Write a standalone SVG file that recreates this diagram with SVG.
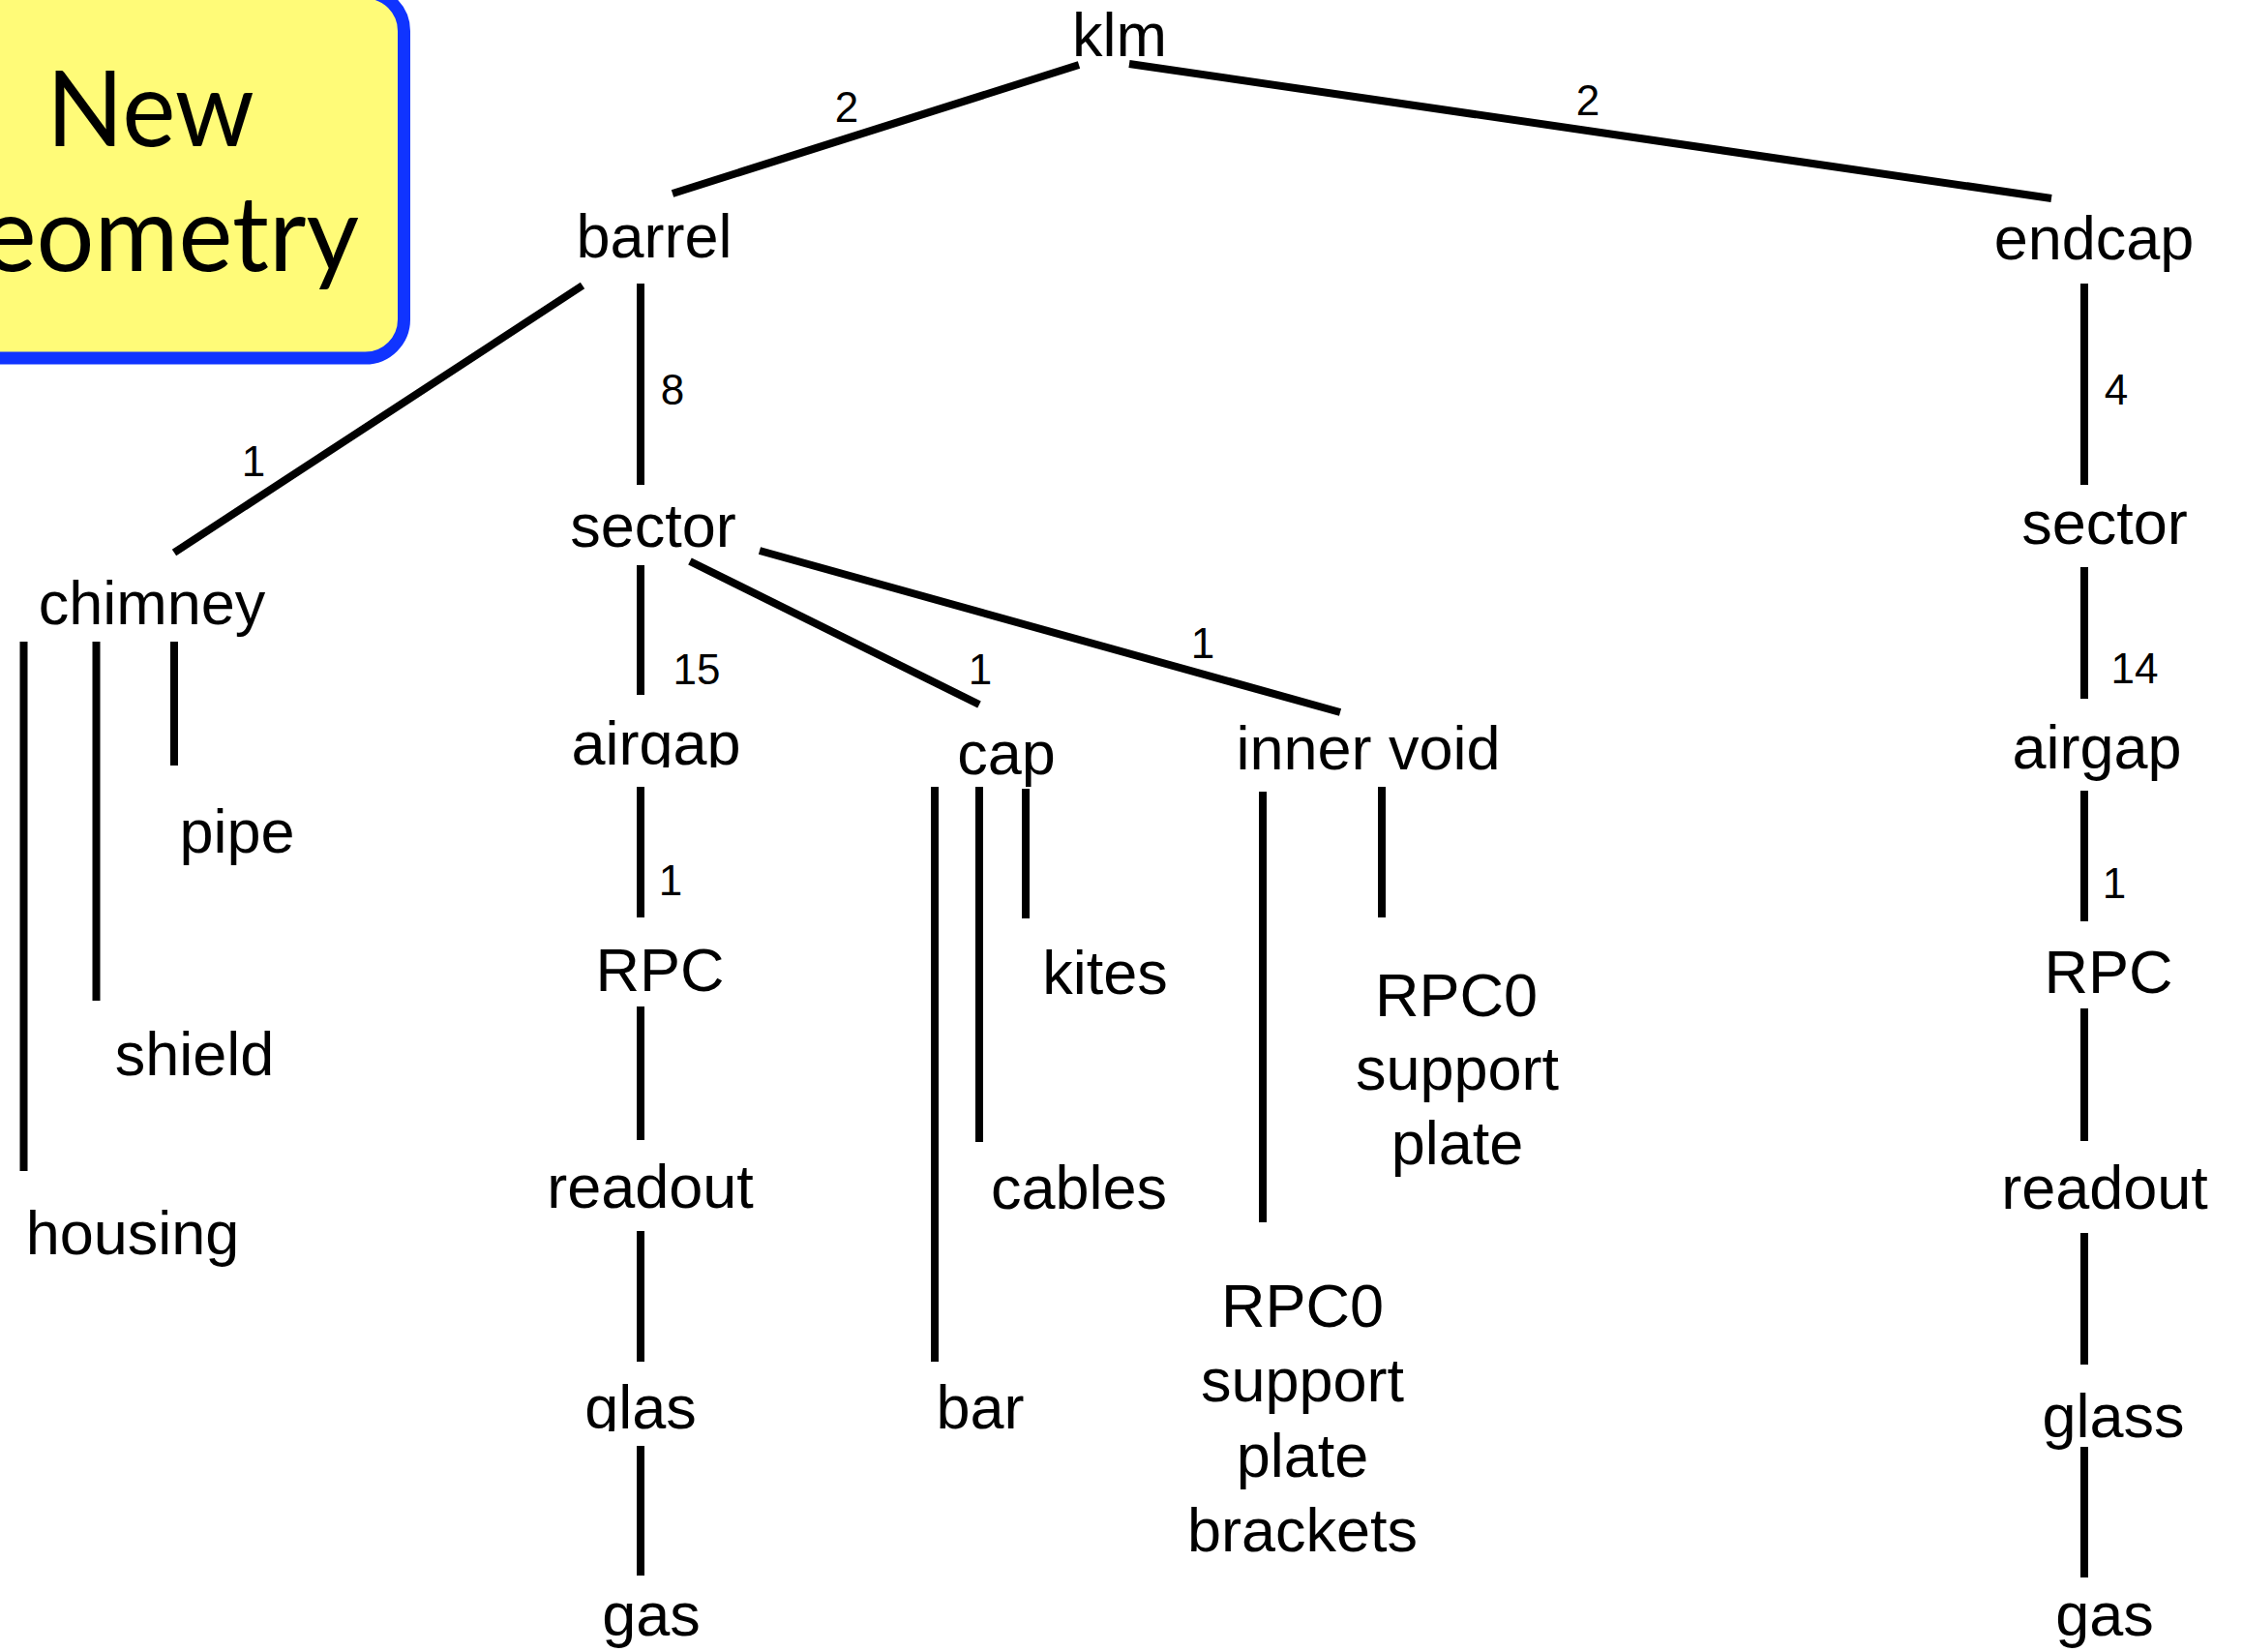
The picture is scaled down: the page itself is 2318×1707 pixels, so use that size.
<svg xmlns="http://www.w3.org/2000/svg" width="2318" height="1707" viewBox="0 0 2318 1707">
  <style>
    .lbl { font-family: "Liberation Sans", Arial, Helvetica, sans-serif; font-size: 63px; fill: #000; text-anchor: middle; }
    .num { font-family: "Liberation Sans", Arial, Helvetica, sans-serif; font-size: 44px; fill: #000; text-anchor: middle; }
    .edge { stroke: #000; stroke-width: 8; fill: none; stroke-linecap: butt; }
    .title { font-family: Lato, "Open Sans", sans-serif; font-size: 108px; fill: #000; }
  </style>
  <defs>
    <!-- label boxes that cut off the descenders -->
    <clipPath id="clip-airgap"><rect x="560" y="700" width="240" height="93"/></clipPath>
    <clipPath id="clip-glas"><rect x="580" y="1400" width="170" height="79"/></clipPath>
  </defs>

  <rect width="2318" height="1707" fill="#fff"/>

  <!-- title badge -->
  <g id="title-badge">
    <rect x="-60" y="-8" width="477.5" height="378" rx="40" ry="40" fill="#FFFB78" stroke="#1034FF" stroke-width="13"/>
    <text class="title" x="48" y="151" textLength="215" lengthAdjust="spacingAndGlyphs">New</text>
    <text class="title" x="-95" y="280" textLength="466" lengthAdjust="spacingAndGlyphs">Geometry</text>
  </g>

  <!-- connectors -->
  <g id="connectors">
    <line class="edge" x1="1115" y1="67" x2="695" y2="200"/>
    <line class="edge" x1="1167" y1="66" x2="2120" y2="205"/>
    <line class="edge" x1="602" y1="295" x2="180" y2="571"/>
    <line class="edge" x1="662" y1="293" x2="662" y2="501"/>
    <line class="edge" x1="662" y1="584" x2="662" y2="718"/>
    <line class="edge" x1="713" y1="580" x2="1012" y2="728"/>
    <line class="edge" x1="785" y1="569" x2="1385" y2="736"/>
    <line class="edge" x1="662" y1="813" x2="662" y2="948"/>
    <line class="edge" x1="662" y1="1040" x2="662" y2="1178"/>
    <line class="edge" x1="662" y1="1272" x2="662" y2="1407"/>
    <line class="edge" x1="662" y1="1494" x2="662" y2="1628"/>
    <line class="edge" x1="24.5" y1="663" x2="24.5" y2="1210"/>
    <line class="edge" x1="99.5" y1="663" x2="99.5" y2="1034"/>
    <line class="edge" x1="180" y1="663" x2="180" y2="791"/>
    <line class="edge" x1="966" y1="813" x2="966" y2="1407"/>
    <line class="edge" x1="1012" y1="813" x2="1012" y2="1180"/>
    <line class="edge" x1="1060" y1="815" x2="1060" y2="949"/>
    <line class="edge" x1="1305" y1="818" x2="1305" y2="1263"/>
    <line class="edge" x1="1428" y1="813" x2="1428" y2="948"/>
    <line class="edge" x1="2154" y1="293" x2="2154" y2="501"/>
    <line class="edge" x1="2154" y1="586" x2="2154" y2="722"/>
    <line class="edge" x1="2154" y1="817" x2="2154" y2="952"/>
    <line class="edge" x1="2154" y1="1042" x2="2154" y2="1179"/>
    <line class="edge" x1="2154" y1="1274" x2="2154" y2="1410"/>
    <line class="edge" x1="2154" y1="1495" x2="2154" y2="1630"/>

    <!-- multiplicities -->
    <text class="num" x="875" y="126">2</text>
    <text class="num" x="1641" y="119">2</text>
    <text class="num" x="262" y="492">1</text>
    <text class="num" x="695" y="418">8</text>
    <text class="num" x="720" y="707">15</text>
    <text class="num" x="1013" y="707">1</text>
    <text class="num" x="1243" y="680">1</text>
    <text class="num" x="693" y="925">1</text>
    <text class="num" x="2187" y="418">4</text>
    <text class="num" x="2206" y="706">14</text>
    <text class="num" x="2185" y="928">1</text>
  </g>

  <!-- nodes -->
  <g id="node-klm"><text class="lbl" x="1157" y="58">klm</text></g>
  <g id="node-barrel"><text class="lbl" x="676" y="266">barrel</text></g>
  <g id="node-endcap"><text class="lbl" x="2164" y="268">endcap</text></g>

  <g id="node-chimney"><text class="lbl" x="157" y="645">chimney</text></g>
  <g id="node-pipe"><text class="lbl" x="245" y="881">pipe</text></g>
  <g id="node-shield"><text class="lbl" x="201" y="1111">shield</text></g>
  <g id="node-housing"><text class="lbl" x="137" y="1296">housing</text></g>

  <g id="node-barrel-sector"><text class="lbl" x="675" y="565">sector</text></g>
  <g id="node-barrel-airgap"><text class="lbl" x="678" y="790" clip-path="url(#clip-airgap)">airgap</text></g>
  <g id="node-barrel-rpc"><text class="lbl" x="682" y="1024">RPC</text></g>
  <g id="node-barrel-readout"><text class="lbl" x="672" y="1248">readout</text></g>
  <g id="node-barrel-glas"><text class="lbl" x="662" y="1476" clip-path="url(#clip-glas)">glas</text></g>
  <g id="node-barrel-gas"><text class="lbl" x="673" y="1690">gas</text></g>

  <g id="node-cap"><text class="lbl" x="1040" y="800">cap</text></g>
  <g id="node-kites"><text class="lbl" x="1142" y="1027">kites</text></g>
  <g id="node-cables"><text class="lbl" x="1115" y="1249">cables</text></g>
  <g id="node-bar"><text class="lbl" x="1013" y="1476">bar</text></g>

  <g id="node-inner-void"><text class="lbl" x="1414" y="795">inner void</text></g>
  <g id="node-rpc0-support-plate">
    <text class="lbl" x="1505" y="1050">RPC0</text>
    <text class="lbl" x="1506" y="1126">support</text>
    <text class="lbl" x="1506" y="1203">plate</text>
  </g>
  <g id="node-rpc0-support-plate-brackets">
    <text class="lbl" x="1346" y="1371">RPC0</text>
    <text class="lbl" x="1346" y="1448">support</text>
    <text class="lbl" x="1346" y="1526">plate</text>
    <text class="lbl" x="1346" y="1603">brackets</text>
  </g>

  <g id="node-endcap-sector"><text class="lbl" x="2175" y="562">sector</text></g>
  <g id="node-endcap-airgap"><text class="lbl" x="2167" y="794">airgap</text></g>
  <g id="node-endcap-rpc"><text class="lbl" x="2179" y="1026">RPC</text></g>
  <g id="node-endcap-readout"><text class="lbl" x="2175" y="1249">readout</text></g>
  <g id="node-endcap-glass"><text class="lbl" x="2184" y="1485">glass</text></g>
  <g id="node-endcap-gas"><text class="lbl" x="2175" y="1690">gas</text></g>
</svg>
